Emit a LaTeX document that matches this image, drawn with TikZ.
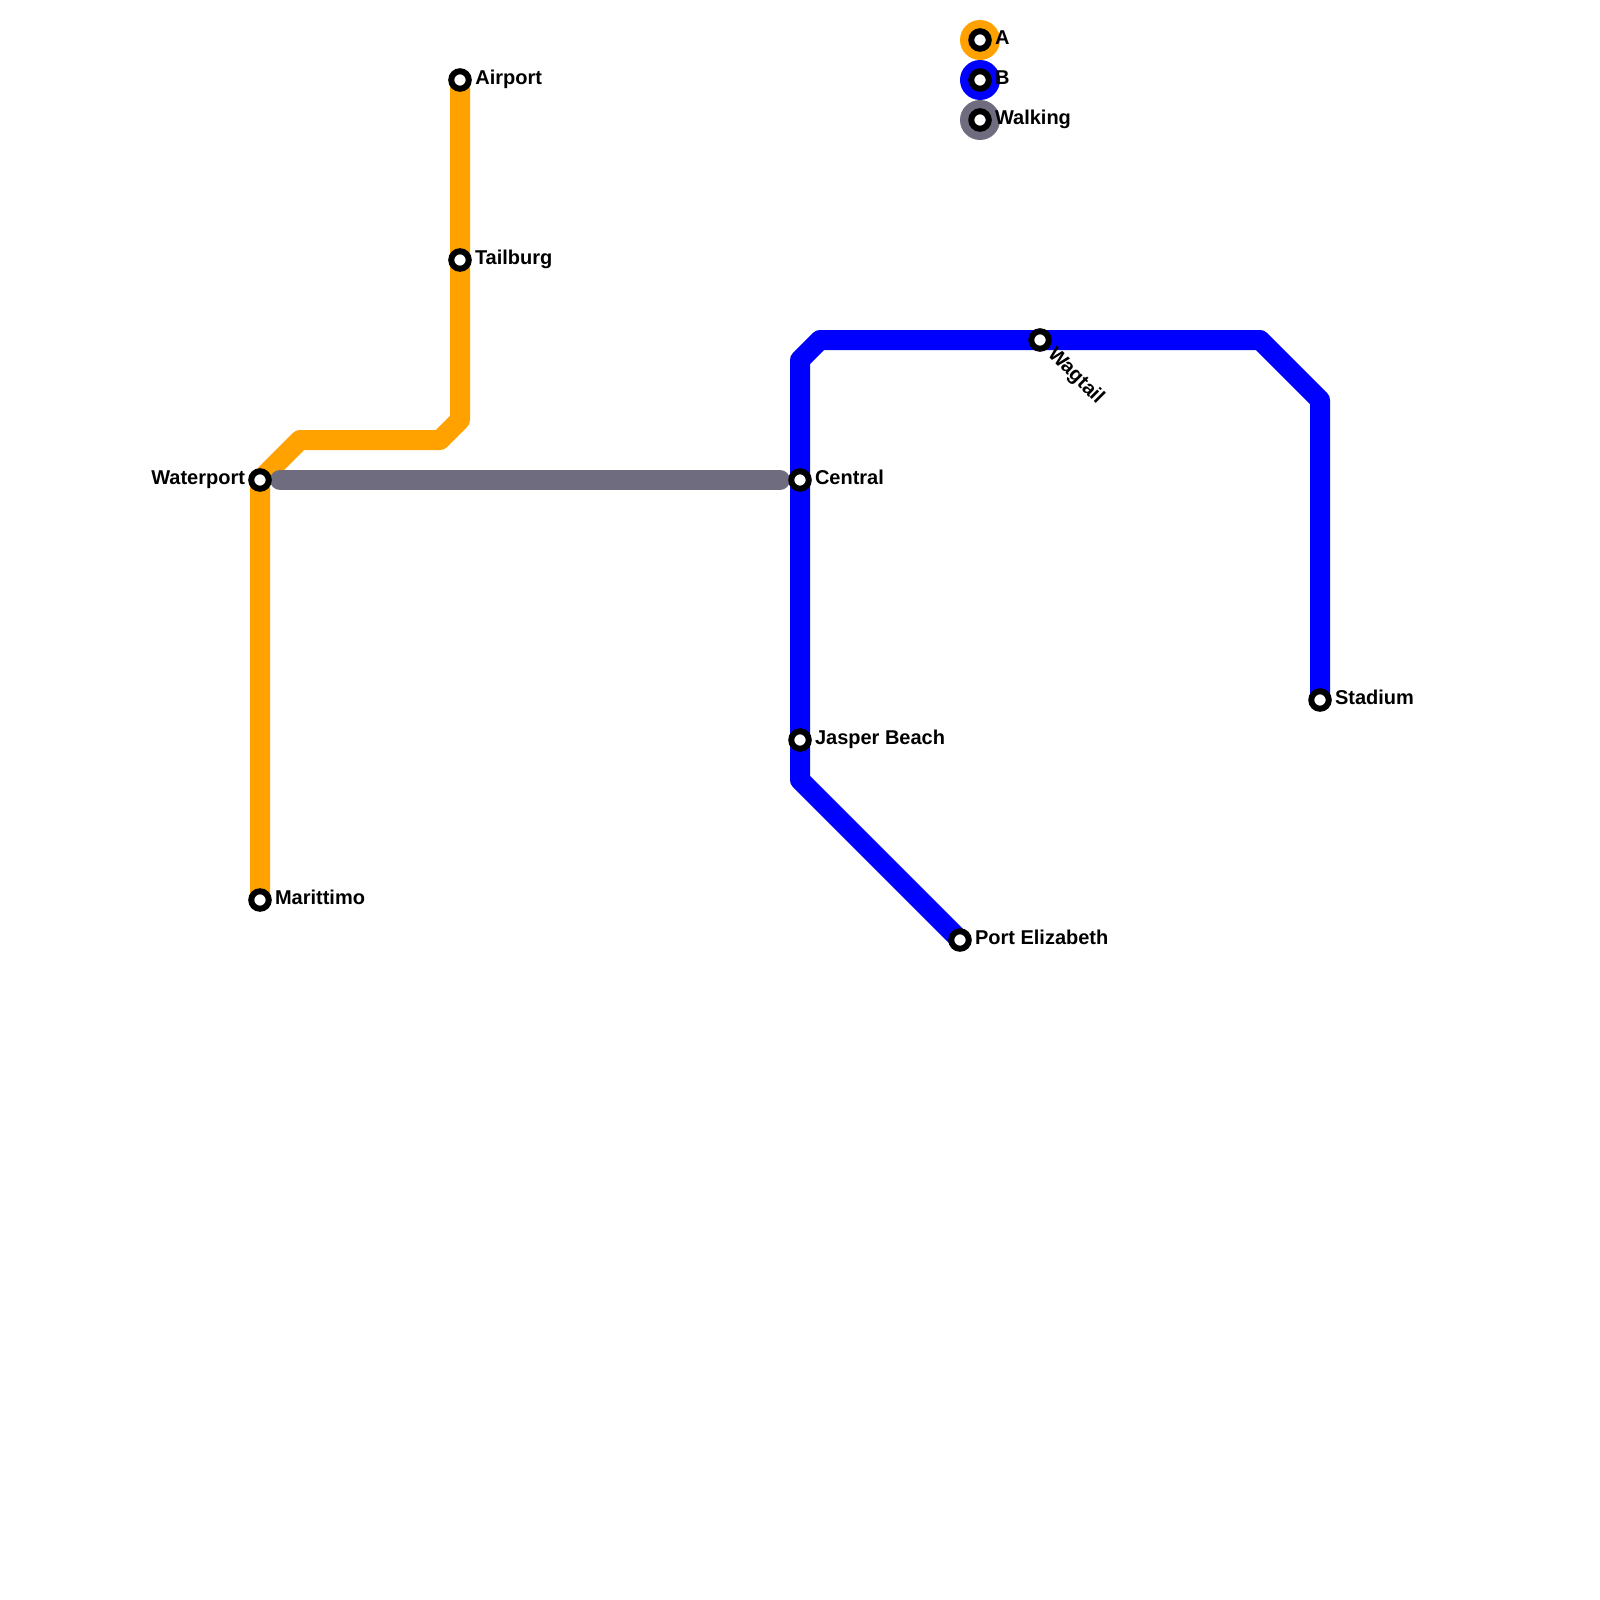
\documentclass[tikz,border=0pt]{standalone}
\usepackage{fontspec}
\setmainfont{Liberation Sans}[Ligatures=TeX]
\definecolor{lineA}{HTML}{FFA200}
\definecolor{lineB}{HTML}{0000FF}
\definecolor{lineW}{HTML}{6E6C7E}
\tikzset{
  x=1pt,y=-1pt,
  route/.style={line width=20pt,line join=round,line cap=butt},
  stn/.style={circle,draw=black,fill=white,line width=6pt,minimum size=17.5pt,inner sep=0pt,outer sep=0pt},
  lab/.style={font=\fontsize{20}{20}\selectfont\bfseries,text=black,inner sep=0pt,outer sep=0pt},
  swatch/.style={circle,minimum size=40pt,inner sep=0pt,outer sep=0pt}
}
\begin{document}
\begin{tikzpicture}
\useasboundingbox (0,0) rectangle (1600,1600);
\fill[white] (0,0) rectangle (1600,1600);
% bends
\coordinate (a1) at (300,440);
\coordinate (a2) at (440,440);
\coordinate (a3) at (460,420);
\coordinate (b1) at (800,360);
\coordinate (b2) at (820,340);
\coordinate (b3) at (1260,340);
\coordinate (b4) at (1320,400);
\coordinate (b5) at (800,780);
\coordinate (w1) at (280,480);
\coordinate (w2) at (780,480);
% station anchors
\coordinate (pMar) at (260,900);
\coordinate (pWat) at (260,480);
\coordinate (pAir) at (460,80);
\coordinate (pTai) at (460,260);
\coordinate (pCen) at (800,480);
\coordinate (pJas) at (800,740);
\coordinate (pPor) at (960,940);
\coordinate (pWag) at (1040,340);
\coordinate (pSta) at (1320,700);
% routes
\draw[route,lineA] (pMar) -- (pWat) -- (a1) -- (a2) -- (a3) -- (pTai) -- (pAir);
\draw[route,lineB] (pPor) -- (b5) -- (pJas) -- (pCen) -- (b1) -- (b2) -- (pWag) -- (b3) -- (b4) -- (pSta);
\draw[route,lineW,line cap=round] (w1) -- (w2);
% legend swatches
\node[swatch,fill=lineA] (swA) at (980,40) {};
\node[swatch,fill=lineB] (swB) at (980,80) {};
\node[swatch,fill=lineW] (swW) at (980,120) {};
% stations
\node[stn] (Marittimo) at (pMar) {};
\node[stn] (Waterport) at (pWat) {};
\node[stn] (Airport) at (pAir) {};
\node[stn] (Tailburg) at (pTai) {};
\node[stn] (Central) at (pCen) {};
\node[stn] (Jasper) at (pJas) {};
\node[stn] (Port) at (pPor) {};
\node[stn] (Wagtail) at (pWag) {};
\node[stn] (Stadium) at (pSta) {};
\node[stn] (legA) at (980,40) {};
\node[stn] (legB) at (980,80) {};
\node[stn] (legW) at (980,120) {};
% labels
\node[lab,anchor=base west] (tMar) at (275,904.8) {Marittimo};
\node[lab,anchor=base east] (tWat) at (245,484.8) {Waterport};
\node[lab,anchor=base west] (tAir) at (475.4,85) {Airport};
\node[lab,anchor=base west] (tTai) at (475,264.8) {Tailburg};
\node[lab,anchor=base west] (tCen) at (815,484.6) {Central};
\node[lab,anchor=base west] (tJas) at (815,744.8) {Jasper Beach};
\node[lab,anchor=base west] (tPor) at (975,944.8) {Port Elizabeth};
\node[lab,anchor=base west,rotate=-45] (tWag) at (1047,355) {Wagtail};
\node[lab,anchor=base west] (tSta) at (1335,704.6) {Stadium};
\node[lab,anchor=base west] (tA) at (995,45) {A};
\node[lab,anchor=base west] (tB) at (995,84.8) {B};
\node[lab,anchor=base west] (tW) at (995,124.8) {Walking};
\end{tikzpicture}
\end{document}
